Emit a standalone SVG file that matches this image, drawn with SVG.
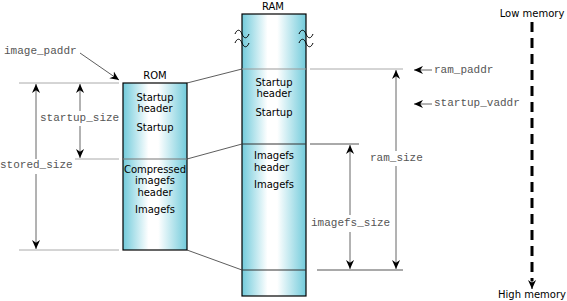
<svg xmlns="http://www.w3.org/2000/svg" width="567" height="301" viewBox="0 0 567 301">
<style>
.lbl{font-family:"DejaVu Sans",Verdana,sans-serif;font-size:10px;fill:#000}
.code{font-family:"Liberation Mono","Courier New",monospace;font-size:11px;fill:#555}
.box{fill:url(#cyan);stroke:#000;stroke-width:1.2}
.ext{stroke:#aaa;stroke-width:1;fill:none}
.extd{stroke:#555;stroke-width:1;fill:none}
.dim{stroke:#666;stroke-width:1;fill:none}
.conn{stroke:#333;stroke-width:0.8;fill:none}
.brk{stroke:#000;stroke-width:1;fill:none}
</style>
<defs>
<linearGradient id="cyan" x1="0" y1="0" x2="1" y2="0">
<stop offset="0" stop-color="#72cbdb"/>
<stop offset="0.4" stop-color="#ffffff"/>
<stop offset="0.55" stop-color="#ffffff"/>
<stop offset="1" stop-color="#72cbdb"/>
</linearGradient>
<marker id="ah" viewBox="0 0 10 10" refX="10" refY="5" markerWidth="9" markerHeight="9" orient="auto-start-reverse" markerUnits="userSpaceOnUse">
<path d="M0,0.5 L10,5 L0,9.5 L3,5 Z" fill="#000"/>
</marker>
</defs>

<g id="rom">
<text class="lbl" x="155" y="79" text-anchor="middle">ROM</text>
<rect class="box" x="123" y="83" width="64" height="167"/>
<line x1="123" y1="159" x2="187" y2="159" stroke="#777" stroke-width="1"/>
<text class="lbl" x="155" y="101" text-anchor="middle">Startup</text>
<text class="lbl" x="155" y="112" text-anchor="middle">header</text>
<text class="lbl" x="155" y="131" text-anchor="middle">Startup</text>
<text class="lbl" x="155" y="173" text-anchor="middle">Compressed</text>
<text class="lbl" x="155" y="184" text-anchor="middle">imagefs</text>
<text class="lbl" x="155" y="196" text-anchor="middle">header</text>
<text class="lbl" x="155" y="213" text-anchor="middle">Imagefs</text>
</g>

<g id="ram">
<text class="lbl" x="273" y="10" text-anchor="middle">RAM</text>
<rect class="box" x="242" y="14" width="64" height="282"/>
<line x1="242" y1="69" x2="306" y2="69" stroke="#999" stroke-width="1.2"/>
<line x1="242" y1="144" x2="306" y2="144" stroke="#333" stroke-width="1"/>
<line x1="242" y1="270" x2="306" y2="270" stroke="#333" stroke-width="1"/>
<path class="brk" d="M235,34 c2,-5 5,-5 7,0 s5,5 7,0 M235,43 c2,-5 5,-5 7,0 s5,5 7,0"/>
<path class="brk" d="M299,34 c2,-5 5,-5 7,0 s5,5 7,0 M299,43 c2,-5 5,-5 7,0 s5,5 7,0"/>
<text class="lbl" x="274" y="86" text-anchor="middle">Startup</text>
<text class="lbl" x="274" y="97" text-anchor="middle">header</text>
<text class="lbl" x="274" y="116" text-anchor="middle">Startup</text>
<text class="lbl" x="254" y="159">Imagefs</text>
<text class="lbl" x="254" y="171">header</text>
<text class="lbl" x="254" y="188">Imagefs</text>
</g>

<g id="memory-axis">
<text class="lbl" x="532" y="17" text-anchor="middle">Low memory</text>
<line x1="532" y1="22" x2="532" y2="281" stroke="#000" stroke-width="3" stroke-dasharray="10 6"/>
<line x1="532" y1="280" x2="532" y2="289" stroke="#000" stroke-width="1" marker-end="url(#ah)"/>
<text class="lbl" x="532" y="298" text-anchor="middle">High memory</text>
</g>

<g id="connectors">
<line class="conn" x1="187" y1="83" x2="242" y2="69"/>
<line class="conn" x1="187" y1="159" x2="242" y2="144"/>
<line class="conn" x1="187" y1="250" x2="242" y2="270"/>
<line class="ext" x1="19" y1="83" x2="119" y2="83"/>
<line class="ext" x1="75" y1="159" x2="119" y2="159"/>
<line class="ext" x1="19" y1="250" x2="119" y2="250"/>
<line class="ext" x1="310" y1="69" x2="403" y2="69"/>
<line class="extd" x1="310" y1="144" x2="359" y2="144"/>
<line class="extd" x1="317" y1="270" x2="403" y2="270"/>
<line class="dim" x1="36" y1="159" x2="36" y2="84" marker-end="url(#ah)"/>
<line class="dim" x1="36" y1="174" x2="36" y2="249" marker-end="url(#ah)"/>
<line class="dim" x1="80" y1="111" x2="80" y2="84" marker-end="url(#ah)"/>
<line class="dim" x1="80" y1="126" x2="80" y2="158" marker-end="url(#ah)"/>
<line class="dim" x1="396" y1="151" x2="396" y2="70" marker-end="url(#ah)"/>
<line class="dim" x1="396" y1="166" x2="396" y2="269" marker-end="url(#ah)"/>
<line class="dim" x1="350" y1="215" x2="350" y2="145" marker-end="url(#ah)"/>
<line class="dim" x1="350" y1="232" x2="350" y2="269" marker-end="url(#ah)"/>
<line class="conn" x1="80" y1="53" x2="119" y2="80" marker-end="url(#ah)"/>
<line class="dim" x1="432" y1="70" x2="414" y2="70" marker-end="url(#ah)"/>
<line class="dim" x1="432" y1="104" x2="414" y2="104" marker-end="url(#ah)"/>
</g>

<g id="labels">
<text class="code" x="4" y="54">image_paddr</text>
<text class="code" x="40" y="121">startup_size</text>
<text class="code" x="0" y="168">stored_size</text>
<text class="code" x="370" y="161">ram_size</text>
<text class="code" x="311" y="226">imagefs_size</text>
<text class="code" x="434" y="73">ram_paddr</text>
<text class="code" x="434" y="106">startup_vaddr</text>
</g>
</svg>
